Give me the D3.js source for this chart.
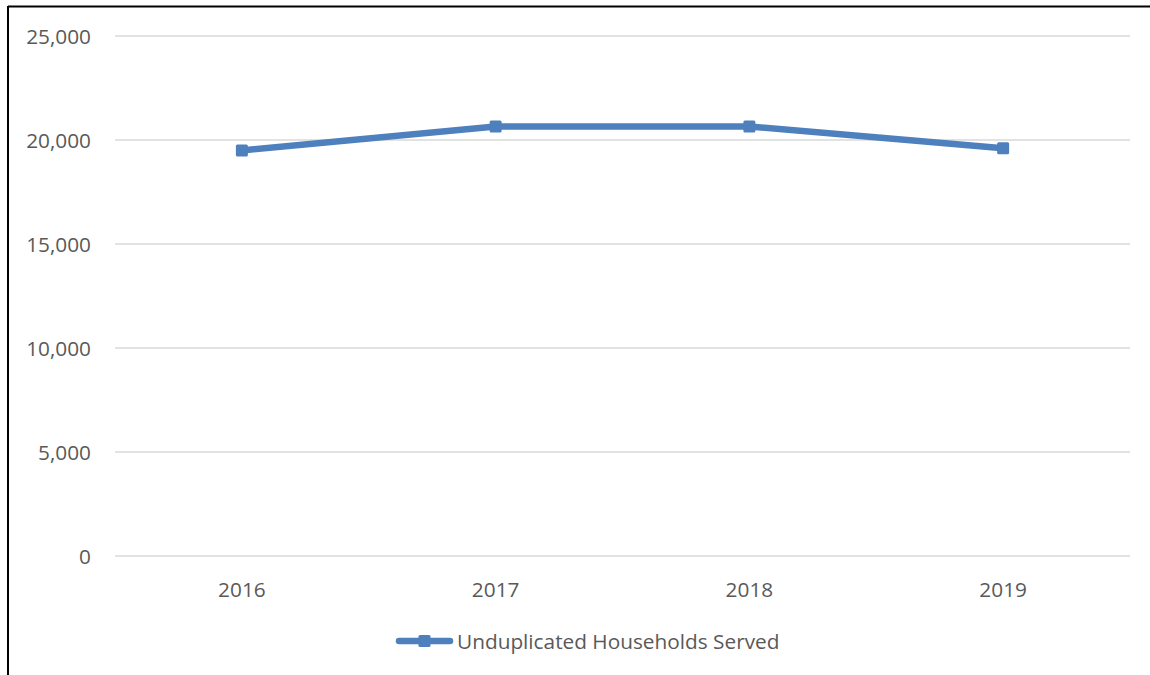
<!DOCTYPE html>
<html><head><meta charset="utf-8">
<script src="https://cdn.jsdelivr.net/npm/d3@7"></script>
<style>html,body{margin:0;padding:0;background:#fff}svg{display:block}</style>
</head><body>
<script>
const categories = ["2016", "2017", "2018", "2019"];
const seriesName = "Unduplicated Households Served";
const values = [19500, 20650, 20650, 19600];
const yTicks = [0, 5000, 10000, 15000, 20000, 25000];

const W = 1150, H = 675;
const font = "'Open Sans', sans-serif";
const fs = 20.8;
const textColor = "#595959";
const lineColor = "#4e80bd";

const svg = d3.select("body").append("svg").attr("width", W).attr("height", H);

// frame
svg.append("line").attr("x1", 8).attr("x2", W).attr("y1", 6.5).attr("y2", 6.5).attr("stroke", "#000").attr("stroke-width", 2);
svg.append("line").attr("x1", 8).attr("x2", 8).attr("y1", 6).attr("y2", H).attr("stroke", "#000").attr("stroke-width", 2);

const x = d3.scaleBand().domain(categories).range([115, 1130]).padding(0);
const y = d3.scaleLinear().domain([0, 25000]).range([556, 36]);

// gridlines
svg.append("g").selectAll("line").data(yTicks).join("line")
  .attr("x1", 115).attr("x2", 1130)
  .attr("y1", d => y(d)).attr("y2", d => y(d))
  .attr("stroke", "#d9d9d9").attr("stroke-width", 1.6);

// y axis labels
const yAxis = d3.axisLeft(y).tickValues(yTicks).tickSize(0).tickPadding(0)
  .tickFormat(d3.format(","));
const gy = svg.append("g").attr("transform", "translate(91,0)").call(yAxis);
gy.select(".domain").remove();
gy.selectAll("text").attr("font-family", font).attr("font-size", fs).attr("fill", textColor).attr("dy", "0.36em");

// x axis labels
const xAxis = d3.axisBottom(x).tickSize(0).tickPadding(0);
const gx = svg.append("g").attr("transform", "translate(0,597)").call(xAxis);
gx.select(".domain").remove();
gx.selectAll("text").attr("font-family", font).attr("font-size", fs).attr("fill", textColor).attr("dy", 0);

// line
const cx = d => x(d) + x.bandwidth() / 2;
const line = d3.line().x((d, i) => cx(categories[i])).y(d => y(d));
svg.append("path").datum(values).attr("d", line)
  .attr("fill", "none").attr("stroke", lineColor).attr("stroke-width", 6.5).attr("stroke-linejoin", "round");

const ms = 12;
svg.append("g").selectAll("rect").data(values).join("rect")
  .attr("x", (d, i) => cx(categories[i]) - ms / 2)
  .attr("y", d => y(d) - ms / 2)
  .attr("width", ms).attr("height", ms).attr("rx", 1.5)
  .attr("fill", lineColor);

// legend
const lg = svg.append("g");
lg.append("line").attr("x1", 399).attr("x2", 450).attr("y1", 641).attr("y2", 641)
  .attr("stroke", lineColor).attr("stroke-width", 6.5).attr("stroke-linecap", "round");
lg.append("rect").attr("x", 424.5 - ms / 2).attr("y", 641 - ms / 2).attr("width", ms).attr("height", ms).attr("rx", 1.5).attr("fill", lineColor);
lg.append("text").attr("x", 457).attr("y", 649).text(seriesName)
  .attr("font-family", font).attr("font-size", fs).attr("fill", textColor);
</script>
</body></html>
